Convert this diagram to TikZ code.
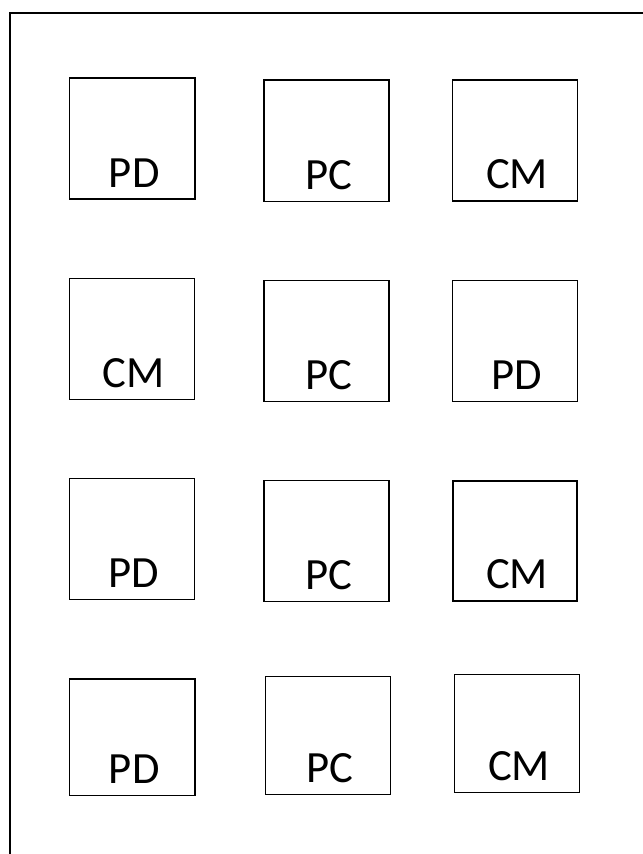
\documentclass[tikz,border=0pt]{standalone}
\usepackage{fontspec}
\setmainfont{Carlito}
\usetikzlibrary{positioning}

\begin{document}
\begin{tikzpicture}[x=0.75pt, y=-0.75pt,
  cellbox/.style={draw, line width=1.1pt, inner sep=0pt},
  tag/.style={font=\fontsize{33.5}{38}\selectfont, anchor=base, inner sep=0pt}]
  \useasboundingbox (0,0) rectangle (643,854);
  % page frame, cut off at the right and bottom
  \draw[line width=1.5pt] (10,854) -- (10,13) -- (643,13);
  \foreach \nm/\cx/\cy/\w/\h/\t in {
    a1/132.2/138.6/125.5/121/PD, a2/326.5/140.8/125/121.5/PC, a3/515/140.5/125.4/121/CM,
    b1/131.8/338.8/125/121/CM, b2/326.5/341/125/121/PC, b3/515/341.2/124.6/121/PD,
    c1/131.8/538.8/125/121/PD, c2/326.5/541.2/125/121/PC, c3/515/541/124/120/CM,
    d1/132.2/737.4/125.5/116.7/PD, d2/328.2/735.5/125/117.6/PC, d3/517/733.5/125.4/117.6/CM
  } {
    \node[cellbox, minimum width=\w*0.75pt, minimum height=\h*0.75pt] (\nm) at (\cx,\cy) {};
    \node[tag] (\nm-tag) at ([xshift=1.5pt, yshift=9.6pt]\nm.south) {\t};
  }
\end{tikzpicture}
\end{document}
